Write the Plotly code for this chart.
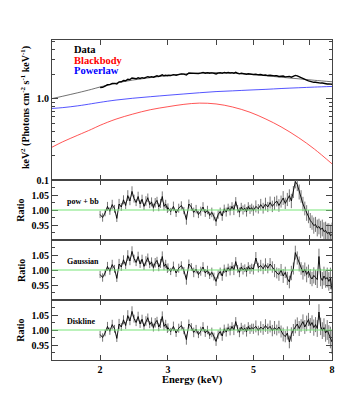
import plotly.graph_objects as go
from plotly.subplots import make_subplots

# Model components (keV^2 flux)
model_energy = [1.5, 1.6, 1.75, 1.9, 2.0, 2.2, 2.43, 2.7, 3.0, 3.3, 3.62, 4.0,
                4.41, 4.9, 5.39, 5.9, 6.56, 7.2, 8.0]
blackbody = [0.253, 0.295, 0.355, 0.42, 0.47, 0.56, 0.645, 0.73, 0.795, 0.85, 0.88, 0.86,
             0.79, 0.68, 0.56, 0.45, 0.33, 0.24, 0.158]
powerlaw = [0.757, 0.775, 0.815, 0.865, 0.90, 0.96, 1.01, 1.055, 1.10, 1.14, 1.18, 1.22,
            1.245, 1.275, 1.30, 1.33, 1.36, 1.385, 1.41]
model_total = [1.0, 1.07, 1.18, 1.30, 1.39, 1.55, 1.69, 1.81, 1.92, 2.01, 2.07, 2.09,
               2.06, 1.99, 1.91, 1.83, 1.75, 1.68, 1.61]

# Channel energies (keV)
energy = [
    2.00, 2.03, 2.06, 2.09, 2.12, 2.15, 2.18, 2.21, 2.24, 2.27, 2.30, 2.33, 2.36, 2.39,
    2.42, 2.45, 2.48, 2.51, 2.54, 2.57, 2.60, 2.63, 2.66, 2.69, 2.72, 2.75, 2.78, 2.81,
    2.84, 2.87, 2.90, 2.93, 2.96, 2.99,
    3.00, 3.05, 3.10, 3.15, 3.20, 3.25, 3.30, 3.35, 3.40, 3.45, 3.50, 3.55, 3.60, 3.65,
    3.70, 3.75, 3.80, 3.85, 3.90, 3.95, 4.00, 4.05, 4.10, 4.15, 4.20, 4.25, 4.30, 4.35,
    4.40, 4.45, 4.50, 4.55, 4.60, 4.65, 4.70, 4.75, 4.80, 4.85, 4.90, 4.95,
    5.000, 5.075, 5.150, 5.225, 5.300, 5.375, 5.450, 5.525, 5.600, 5.675, 5.750, 5.825,
    5.900, 5.975, 6.050, 6.125, 6.200, 6.275, 6.350, 6.425, 6.500, 6.575, 6.650, 6.725,
    6.800, 6.875, 6.950, 7.025, 7.100, 7.175, 7.250, 7.325, 7.400, 7.475, 7.550, 7.625,
    7.700, 7.775, 7.850, 7.925, 8.000,
]

flux_data = [
    1.369, 1.375, 1.426, 1.478, 1.484, 1.537, 1.536, 1.511, 1.607, 1.611, 1.665, 1.654,
    1.724, 1.710, 1.789, 1.765, 1.753, 1.803, 1.770, 1.808, 1.781, 1.823, 1.858, 1.832,
    1.859, 1.835, 1.879, 1.904, 1.874, 1.906, 1.959, 1.908, 1.933, 1.909,
    1.935, 1.920, 1.968, 1.935, 1.982, 2.015, 1.996, 1.946, 2.060, 2.050, 2.024, 2.056,
    2.029, 2.057, 2.091, 2.054, 2.080, 2.046, 2.069, 2.042, 2.011, 2.059, 2.078, 2.043,
    2.090, 2.063, 2.089, 2.063, 2.085, 2.055, 2.105, 2.048, 2.017, 2.046, 2.020, 2.024,
    1.993, 2.022, 1.994, 2.001,
    1.976, 1.990, 1.960, 1.973, 1.937, 1.950, 1.919, 1.935, 1.899, 1.905, 1.909, 1.870,
    1.881, 1.893, 1.850, 1.863, 1.876, 1.833, 1.876, 1.927, 1.899, 1.844, 1.808, 1.754,
    1.719, 1.683, 1.655, 1.624, 1.605, 1.585, 1.590, 1.568, 1.572, 1.552, 1.556, 1.532,
    1.535, 1.514, 1.516, 1.498, 1.502,
]

# Ratios below 5 keV are shared by the three fits
ratio_low = [
    0.985, 0.975, 0.990, 1.012, 0.996, 1.018, 1.004, 0.972, 1.020, 1.010, 1.034, 1.015,
    1.048, 1.030, 1.062, 1.038, 1.025, 1.045, 1.020, 1.036, 1.012, 1.030, 1.041, 1.018,
    1.027, 1.008, 1.024, 1.032, 1.010, 1.022, 1.045, 1.012, 1.020, 1.002,
    1.008, 0.995, 1.012, 0.990, 1.006, 1.015, 0.998, 0.968, 1.020, 1.010, 0.992, 1.003,
    0.985, 0.996, 1.010, 0.990, 1.000, 0.982, 0.992, 0.978, 0.962, 0.985, 0.995, 0.980,
    1.004, 0.993, 1.008, 0.998, 1.012, 1.000, 1.028, 1.004, 0.992, 1.010, 1.000, 1.006,
    0.994, 1.012, 1.002, 1.008,
]
ratio_high_powbb = [
    0.998, 1.012, 1.004, 1.018, 1.006, 1.020, 1.010, 1.025, 1.012, 1.022, 1.030, 1.015,
    1.028, 1.040, 1.022, 1.035, 1.048, 1.030, 1.060, 1.095, 1.085, 1.060, 1.045, 1.020,
    1.005, 0.990, 0.978, 0.965, 0.958, 0.948, 0.952, 0.940, 0.945, 0.935, 0.940, 0.928,
    0.932, 0.922, 0.925, 0.915, 0.918,
]
ratio_high_gauss = [
    1.002, 1.040, 1.008, 1.015, 1.004, 1.018, 1.006, 1.020, 1.010, 0.998, 0.990, 0.985,
    1.000, 0.980, 0.992, 0.972, 0.960, 0.990, 1.005, 1.058, 1.040, 1.020, 1.005, 0.992,
    1.002, 0.985, 0.996, 0.978, 0.970, 0.982, 0.975, 0.968, 1.045, 0.975, 0.965, 0.980,
    0.970, 0.975, 0.962, 0.972, 0.935,
]
ratio_high_disk = [
    1.004, 1.012, 0.998, 1.010, 1.002, 1.015, 1.004, 1.012, 0.998, 1.008, 1.000, 1.010,
    0.995, 0.985, 0.978, 0.990, 0.960, 0.985, 1.000, 1.012, 1.020, 1.005, 1.015, 1.028,
    1.010, 1.022, 1.035, 1.015, 1.025, 1.008, 1.018, 1.005, 1.060, 1.012, 0.998, 1.008,
    0.990, 1.000, 0.985, 0.975, 0.960,
]
err_low = [
    0.012, 0.014, 0.011, 0.015, 0.012, 0.016, 0.013, 0.012, 0.017, 0.013, 0.015, 0.012,
    0.018, 0.014, 0.017, 0.013, 0.012, 0.016, 0.013, 0.015, 0.012, 0.016, 0.014, 0.012,
    0.015, 0.013, 0.016, 0.012, 0.014, 0.015, 0.017, 0.013, 0.014, 0.012,
    0.014, 0.012, 0.016, 0.013, 0.015, 0.014, 0.012, 0.017, 0.015, 0.013, 0.016, 0.014,
    0.012, 0.015, 0.016, 0.013, 0.014, 0.012, 0.016, 0.013, 0.015, 0.014, 0.013, 0.016,
    0.014, 0.015, 0.013, 0.016, 0.014, 0.017, 0.015, 0.013, 0.016, 0.014, 0.015, 0.013,
    0.016, 0.014, 0.015, 0.013,
]
err_high = [
    0.017, 0.020, 0.016, 0.019, 0.018, 0.021, 0.017, 0.020, 0.019, 0.022, 0.018, 0.021,
    0.020, 0.023, 0.019, 0.022, 0.021, 0.024, 0.020, 0.023, 0.022, 0.025, 0.021, 0.024,
    0.023, 0.026, 0.022, 0.025, 0.024, 0.027, 0.025, 0.028, 0.026, 0.029, 0.028, 0.031,
    0.029, 0.033, 0.031, 0.036, 0.040,
]

panels = [
    ("pow + bb", ratio_low + ratio_high_powbb),
    ("Gaussian", ratio_low + ratio_high_gauss),
    ("Diskline", ratio_low + ratio_high_disk),
]
ratio_err = err_low + err_high

SERIF = "Liberation Serif"
FRAME = "#444444"

fig = make_subplots(rows=4, cols=1, shared_xaxes=True, vertical_spacing=0,
                    row_heights=[140, 60, 60, 60])

# Top panel: model components + data
fig.add_trace(go.Scatter(x=model_energy, y=powerlaw, mode="lines", line_shape="spline",
                         line=dict(color="#2a2aff", width=0.8)), row=1, col=1)
fig.add_trace(go.Scatter(x=model_energy, y=blackbody, mode="lines", line_shape="spline",
                         line=dict(color="#ff2a2a", width=0.8)), row=1, col=1)
fig.add_trace(go.Scatter(x=model_energy, y=model_total, mode="lines", line_shape="spline",
                         line=dict(color="#333333", width=0.7)), row=1, col=1)
fig.add_trace(go.Scatter(x=energy, y=flux_data, mode="lines",
                         line=dict(color="black", width=1.4)), row=1, col=1)

# Residual panels
for i, (label, ratio) in enumerate(panels):
    row = i + 2
    fig.add_trace(go.Scatter(
        x=energy, y=ratio, mode="lines",
        line=dict(color="black", width=0.9),
        error_y=dict(type="data", array=ratio_err, color="#666666", thickness=0.9, width=0),
    ), row=row, col=1)
    fig.add_hline(y=1.0, line=dict(color="rgb(120,230,120)", width=1.2), row=row, col=1)
    fig.add_annotation(text=f"<b>{label}</b>", x=0.046, xref="paper", y=1.03,
                       yref=f"y{row}", xanchor="left", yanchor="middle", showarrow=False,
                       font=dict(family=SERIF, size=8, color="black"))

tick_font = dict(family=SERIF, size=10, color="black", weight="bold")
fig.update_xaxes(type="log", range=[0.1761, 0.9031], showline=True, mirror="ticks",
                 linecolor=FRAME, linewidth=1, ticks="inside", ticklen=5, tickcolor=FRAME,
                 tickvals=[2, 3, 5, 8], ticktext=["2", "3", "5", "8"],
                 minor=dict(tickvals=[4, 6, 7], ticks="inside", ticklen=5, tickcolor=FRAME),
                 showgrid=False, zeroline=False, tickfont=tick_font)

fig.update_yaxes(type="log", range=[-1, 0.72], tickvals=[0.1, 1.0], ticktext=["0.1", "1.0"],
                 minor=dict(tickvals=[0.2, 0.3, 0.4, 0.5, 0.6, 0.7, 0.8, 0.9, 2, 3, 4, 5],
                            ticks="inside", ticklen=3, tickcolor=FRAME),
                 row=1, col=1)
for row in (2, 3, 4):
    fig.update_yaxes(range=[0.9, 1.1], tickvals=[0.95, 1.0, 1.05],
                     ticktext=["0.95", "1.00", "1.05"],
                     minor=dict(tickvals=[0.925, 0.975, 1.025, 1.075], ticks="inside",
                                ticklen=3, tickcolor=FRAME),
                     row=row, col=1)
fig.update_yaxes(showline=True, mirror="ticks", linecolor=FRAME, linewidth=1,
                 ticks="inside", ticklen=6, tickcolor=FRAME, showgrid=False,
                 zeroline=False, tickfont=tick_font)

# Legend text
for text, color, ypos in [("Data", "black", 0.969), ("Blackbody", "red", 0.9375),
                          ("Powerlaw", "blue", 0.906)]:
    fig.add_annotation(text=f"<b>{text}</b>", x=0.071, y=ypos, xref="paper", yref="paper",
                       xanchor="left", yanchor="middle", showarrow=False,
                       font=dict(family=SERIF, size=10.5, color=color))

# Axis titles
fig.add_annotation(text="<b>keV<sup>2</sup> (Photons cm<sup>-2</sup> s<sup>-1</sup> keV<sup>-1</sup>)</b>",
                   x=-0.096, y=0.7875, xref="paper", yref="paper", textangle=-90,
                   showarrow=False, xanchor="center", yanchor="middle",
                   font=dict(family=SERIF, size=10, color="black"))
for ypos in (0.469, 0.281, 0.094):
    fig.add_annotation(text="<b>Ratio</b>", x=-0.111, y=ypos, xref="paper", yref="paper",
                       textangle=-90, showarrow=False, xanchor="center", yanchor="middle",
                       font=dict(family=SERIF, size=10, color="black"))
fig.add_annotation(text="<b>Energy (keV)</b>", x=0.5, y=-0.062, xref="paper", yref="paper",
                   showarrow=False, xanchor="center", yanchor="middle",
                   font=dict(family=SERIF, size=10.5, color="black"))

# page body adds an 8px offset, so margins are shifted to compensate
fig.update_layout(
    width=350, height=400,
    margin=dict(l=44, r=26, t=32, b=48),
    paper_bgcolor="white", plot_bgcolor="white",
    showlegend=False,
)

fig.write_html("out.html")
